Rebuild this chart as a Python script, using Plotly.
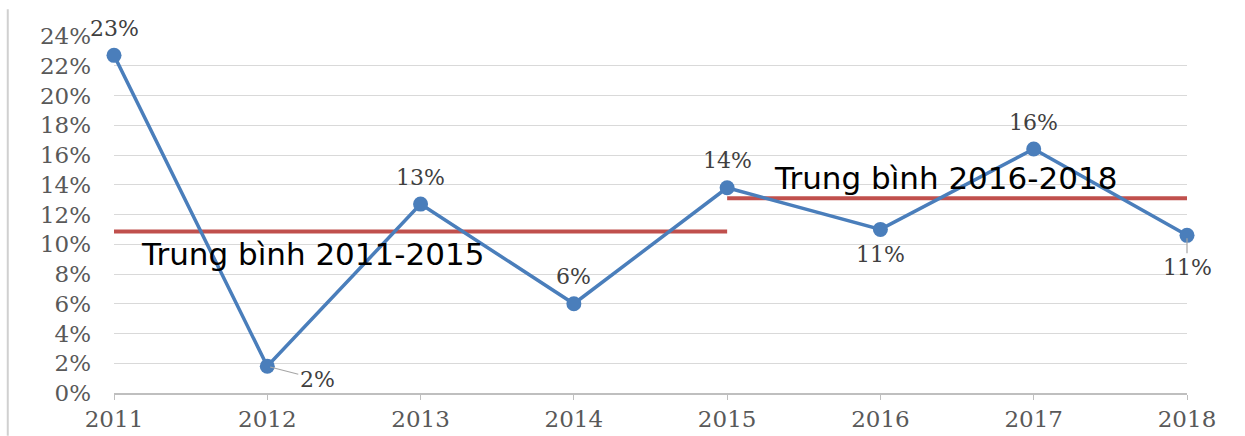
import plotly.graph_objects as go

years = [2011, 2012, 2013, 2014, 2015, 2016, 2017, 2018]
growth = [22.7, 1.8, 12.7, 6.0, 13.8, 11.0, 16.4, 10.6]
labels = ["23%", "2%", "13%", "6%", "14%", "11%", "16%", "11%"]
# label placement: "above", "below", or "leader" (leader line)
label_side = ["above", "leader", "above", "above", "above", "below", "above", "leader"]

avg1_years = [2011, 2015]
avg1_value = 10.85
avg1_text = "Trung bình 2011-2015"
avg2_years = [2015, 2018]
avg2_value = 13.1
avg2_text = "Trung bình 2016-2018"

y_ticks = list(range(0, 26, 2))

BLUE = "#4A7EBB"
RED = "#C0504D"
TXT = "#404040"
SERIF = "DejaVu Serif"
SANS = "DejaVu Sans"
LBL_FONT = dict(family=SERIF, size=22, color=TXT)

fig = go.Figure()

fig.add_trace(go.Scatter(x=avg1_years, y=[avg1_value] * 2, mode="lines",
                         line=dict(color=RED, width=4), hoverinfo="skip", cliponaxis=False))
fig.add_trace(go.Scatter(x=avg2_years, y=[avg2_value] * 2, mode="lines",
                         line=dict(color=RED, width=4), hoverinfo="skip", cliponaxis=False))

fig.add_trace(go.Scatter(
    x=years, y=growth, mode="lines+markers",
    line=dict(color=BLUE, width=3.5),
    marker=dict(color=BLUE, size=15),
    cliponaxis=False,
))

for x, y, t, side in zip(years, growth, labels, label_side):
    if side == "above":
        fig.add_annotation(x=x, y=y, text=t, showarrow=False, yshift=27, font=LBL_FONT)
    elif side == "below":
        fig.add_annotation(x=x, y=y, text=t, showarrow=False, yshift=-25, font=LBL_FONT)

# labels with leader lines
fig.add_annotation(x=years[1], y=growth[1], text=labels[1], showarrow=True,
                   ax=50, ay=13, arrowhead=0, arrowcolor="#A6A6A6", arrowwidth=1.2,
                   standoff=3, font=LBL_FONT)
fig.add_annotation(x=years[7], y=growth[7], text=labels[7], showarrow=True,
                   ax=0, ay=32, arrowhead=0, arrowcolor="#A6A6A6", arrowwidth=1.2,
                   standoff=3, font=LBL_FONT)

fig.add_annotation(x=avg1_years[0] + 0.16, y=avg1_value, text=avg1_text, showarrow=False,
                   xanchor="left", yanchor="middle", yshift=-22,
                   font=dict(family=SANS, size=31, color="#000000"))
fig.add_annotation(x=avg2_years[0] + 0.29, y=avg2_value, text=avg2_text, showarrow=False,
                   xanchor="left", yanchor="middle", yshift=20,
                   font=dict(family=SANS, size=31, color="#000000"))

# outer frame line on the left
fig.add_shape(type="line", xref="paper", yref="paper", x0=-0.099, x1=-0.099,
              y0=-0.12, y1=1.075, line=dict(color="#D0D0D0", width=2))

fig.update_layout(
    width=1245, height=436,
    margin=dict(l=114, r=58, t=36, b=43, autoexpand=False),
    paper_bgcolor="white", plot_bgcolor="white",
    showlegend=False,
    xaxis=dict(range=[2011, 2018], tickvals=years, ticktext=[str(y) for y in years],
               showgrid=False, zeroline=False, showline=True, linecolor="#BFBFBF",
               linewidth=1.5, ticks="outside", ticklen=5, tickcolor="#BFBFBF",
               ticklabelstandoff=0, automargin=False,
               tickfont=dict(family=SERIF, size=23, color="#595959")),
    yaxis=dict(range=[0, 24], tickvals=y_ticks, ticktext=[f"{v}%" for v in y_ticks],
               showgrid=True, gridcolor="#D9D9D9", gridwidth=1.3, zeroline=False,
               showline=False, ticks="", ticklabelstandoff=22, automargin=False,
               tickfont=dict(family=SERIF, size=23, color="#595959")),
)

fig.write_html("out.html")
